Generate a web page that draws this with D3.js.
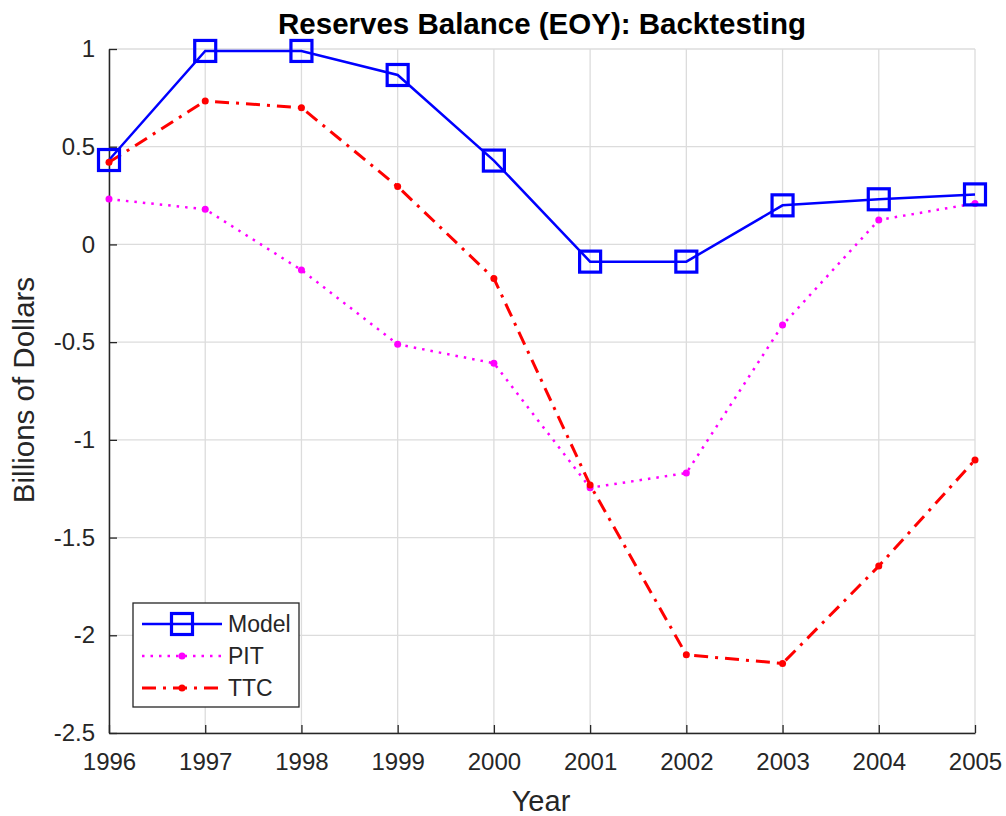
<!DOCTYPE html>
<html>
<head>
<meta charset="utf-8">
<script src="https://cdn.jsdelivr.net/npm/d3@7"></script>
<style>
  html, body { margin: 0; padding: 0; background: #fff; }
  svg { display: block; font-family: "Liberation Sans", Arial, Helvetica, sans-serif; }
</style>
</head>
<body>
<svg id="chart" width="1006" height="816"></svg>
<script>
// Years on the x axis
const years = [1996, 1997, 1998, 1999, 2000, 2001, 2002, 2003, 2004, 2005];

// End-of-year reserves balance, billions of dollars
const modelValues = [0.432, 0.99, 0.99, 0.867, 0.429, -0.088, -0.088, 0.20, 0.231, 0.256];
const pitValues   = [0.232, 0.18, -0.131, -0.511, -0.608, -1.245, -1.17, -0.412, 0.125, 0.21];
const ttcValues   = [0.42, 0.734, 0.70, 0.296, -0.174, -1.231, -2.10, -2.144, -1.646, -1.103];

const yTicks = [1, 0.5, 0, -0.5, -1, -1.5, -2, -2.5];
const yTickLabels = ["1", "0.5", "0", "-0.5", "-1", "-1.5", "-2", "-2.5"];

const seriesNames = ["Model", "PIT", "TTC"];

const svg = d3.select("#chart");
const plot = { left: 109, right: 975, top: 49, bottom: 733 };
const axisColor = "#262626";
const fontFamily = "Liberation Sans, Arial, sans-serif";

const x = d3.scaleLinear().domain([1996, 2005]).range([plot.left, plot.right]);
const y = d3.scaleLinear().domain([-2.5, 1]).range([plot.bottom, plot.top]);

// Grid
const grid = svg.append("g");
grid.selectAll("line.vx").data(years).enter().append("line")
  .attr("x1", d => x(d)).attr("x2", d => x(d))
  .attr("y1", plot.top).attr("y2", plot.bottom)
  .attr("stroke", "#dcdcdc").attr("stroke-width", 1.3);
grid.selectAll("line.hy").data(yTicks).enter().append("line")
  .attr("x1", plot.left).attr("x2", plot.right)
  .attr("y1", d => y(d)).attr("y2", d => y(d))
  .attr("stroke", "#dcdcdc").attr("stroke-width", 1.3);

// Axes (ticks point inward)
const xAxis = d3.axisBottom(x).tickValues(years).tickFormat(d3.format("d"))
  .tickSizeInner(-8).tickSizeOuter(0).tickPadding(20);
const gx = svg.append("g").attr("transform", `translate(0,${plot.bottom})`).call(xAxis);
gx.select(".domain").attr("stroke", axisColor).attr("stroke-width", 1.5);
gx.selectAll(".tick line").attr("stroke", axisColor).attr("stroke-width", 1.3);
gx.selectAll(".tick text").attr("fill", axisColor).attr("font-size", 24)
  .attr("font-family", fontFamily);

const yAxis = d3.axisLeft(y).tickValues(yTicks)
  .tickFormat((d, i) => yTickLabels[i])
  .tickSizeInner(-8).tickSizeOuter(0).tickPadding(14);
const gy = svg.append("g").attr("transform", `translate(${plot.left},0)`).call(yAxis);
gy.select(".domain").attr("stroke", axisColor).attr("stroke-width", 1.5);
gy.selectAll(".tick line").attr("stroke", axisColor).attr("stroke-width", 1.3);
gy.selectAll(".tick text").attr("fill", axisColor).attr("font-size", 24)
  .attr("font-family", fontFamily);

// Series lines
const line = d3.line().x((d, i) => x(years[i])).y(d => y(d));

svg.append("path").datum(pitValues).attr("d", line)
  .attr("fill", "none").attr("stroke", "#ff00ff").attr("stroke-width", 2.5)
  .attr("stroke-dasharray", "2.5,6");
svg.append("path").datum(ttcValues).attr("d", line)
  .attr("fill", "none").attr("stroke", "#ff0000").attr("stroke-width", 3)
  .attr("stroke-dasharray", "14,7,3,7");
svg.append("path").datum(modelValues).attr("d", line)
  .attr("fill", "none").attr("stroke", "#0000ff").attr("stroke-width", 2.5);

// Point markers
svg.selectAll("circle.pit").data(pitValues).enter().append("circle")
  .attr("cx", (d, i) => x(years[i])).attr("cy", d => y(d)).attr("r", 3.5)
  .attr("fill", "#ff00ff");
svg.selectAll("circle.ttc").data(ttcValues).enter().append("circle")
  .attr("cx", (d, i) => x(years[i])).attr("cy", d => y(d)).attr("r", 3.5)
  .attr("fill", "#ff0000");
const sq = 21;
svg.selectAll("rect.model").data(modelValues).enter().append("rect")
  .attr("x", (d, i) => x(years[i]) - sq / 2).attr("y", d => y(d) - sq / 2)
  .attr("width", sq).attr("height", sq)
  .attr("fill", "none").attr("stroke", "#0000ff").attr("stroke-width", 3.2);

// Title and axis labels
svg.append("text").attr("x", 542).attr("y", 34)
  .attr("text-anchor", "middle").attr("font-weight", "bold").attr("font-size", 29.5)
  .attr("fill", "#000").text("Reserves Balance (EOY): Backtesting");
svg.append("text").attr("x", 541).attr("y", 811)
  .attr("text-anchor", "middle").attr("font-size", 29).attr("fill", axisColor)
  .text("Year");
svg.append("text").attr("transform", `translate(34,390) rotate(-90)`)
  .attr("text-anchor", "middle").attr("font-size", 29.5).attr("fill", axisColor)
  .text("Billions of Dollars");

// Legend
const legend = svg.append("g");
legend.append("rect").attr("x", 133).attr("y", 603).attr("width", 166).attr("height", 104)
  .attr("fill", "#fff").attr("stroke", axisColor).attr("stroke-width", 1.3);
const rows = [
  { name: seriesNames[0], color: "#0000ff", dash: null, w: 2.5, marker: "square", yy: 624 },
  { name: seriesNames[1], color: "#ff00ff", dash: "2.5,6", w: 2.5, marker: "dot", yy: 656 },
  { name: seriesNames[2], color: "#ff0000", dash: "14,7,3,7", w: 3, marker: "dot", yy: 688 }
];
rows.forEach(r => {
  legend.append("line").attr("x1", 142).attr("x2", 222).attr("y1", r.yy).attr("y2", r.yy)
    .attr("stroke", r.color).attr("stroke-width", r.w)
    .attr("stroke-dasharray", r.dash);
  if (r.marker === "square") {
    legend.append("rect").attr("x", 182 - sq / 2).attr("y", r.yy - sq / 2)
      .attr("width", sq).attr("height", sq).attr("fill", "none")
      .attr("stroke", r.color).attr("stroke-width", 3.2);
  } else {
    legend.append("circle").attr("cx", 182).attr("cy", r.yy).attr("r", 3.5).attr("fill", r.color);
  }
  legend.append("text").attr("x", 228).attr("y", r.yy).attr("dy", "0.35em")
    .attr("font-size", 23).attr("fill", axisColor).text(r.name);
});
</script>
</body>
</html>
